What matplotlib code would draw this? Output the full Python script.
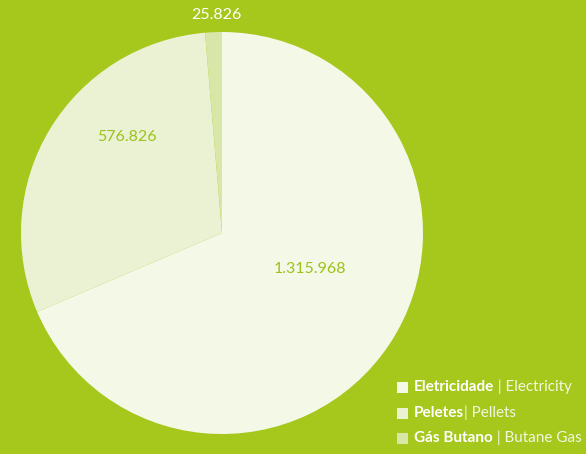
import matplotlib.pyplot as plt
from matplotlib.patches import Rectangle

plt.rcParams['font.family'] = ['Lato', 'DejaVu Sans']

labels_pt = ['Eletricidade', 'Peletes', 'Gás Butano']
labels_en = ['Electricity', 'Pellets', 'Butane Gas']
values = [1315968, 576826, 25826]
value_text = ['1.315.968', '576.826', '25.826']
colors = ['#F4F8E7', '#EAF2D3', '#D8E7A7']
bg = '#A6C71B'

fig = plt.figure(figsize=(5.86, 4.54), dpi=100, facecolor=bg)
ax = fig.add_axes([0, 0, 1, 1])
ax.set_facecolor(bg)

ax.pie(values, colors=colors, startangle=90, counterclock=False,
       radius=1.0, wedgeprops=dict(linewidth=0))

r_px = 201.0
ax.set_xlim(-222 / r_px, (586 - 222) / r_px)
ax.set_ylim(-(454 - 233) / r_px, 233 / r_px)
ax.set_aspect('equal')
ax.axis('off')

# value labels
ax.text(88 / r_px, -36 / r_px, value_text[0], color='#9CC21B', fontsize=11.5,
        ha='center', va='center')
ax.text(-95 / r_px, 96 / r_px, value_text[1], color='#9CC21B', fontsize=11.5,
        ha='center', va='center')
ax.text(-6 / r_px, 218 / r_px, value_text[2], color='white', fontsize=11.5,
        ha='center', va='center')

# legend
ys = [387, 413, 438]
for i in range(3):
    y = 1 - ys[i] / 454
    fig.patches.append(Rectangle((397 / 586, y - 5.5 / 454), 11 / 586, 11 / 454,
                                 transform=fig.transFigure, facecolor=colors[i],
                                 edgecolor='none'))
    sep = ' | ' if i != 1 else '| '
    t = fig.text(414 / 586, y, labels_pt[i], color='white', fontsize=11,
                 fontweight='bold', va='center', ha='left')
    fig.canvas.draw()
    ax.annotate(sep + labels_en[i], xy=(1, 0.5), xycoords=t, va='center',
                ha='left', color='#F2F7E2', fontsize=11)

fig.savefig('out.png', dpi=100, facecolor=bg)
